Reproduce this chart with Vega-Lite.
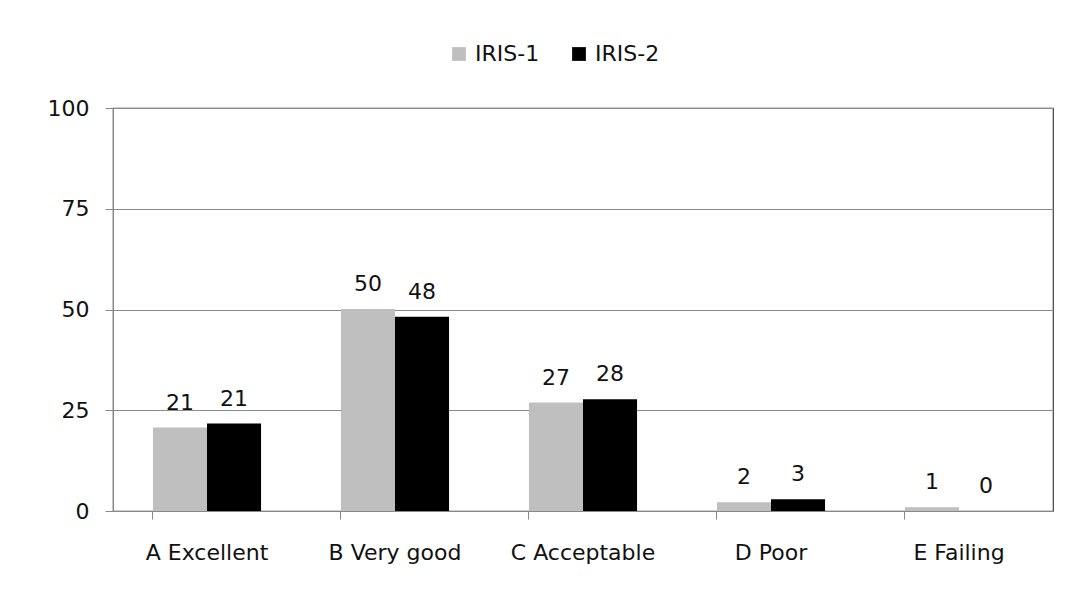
{
  "$schema": "https://vega.github.io/schema/vega-lite/v6.json",
  "width": 940,
  "height": 403,
  "autosize": "none",
  "padding": {"left": 113, "top": 108, "right": 24, "bottom": 83},
  "background": "white",
  "config": {
    "view": {"stroke": "#404040", "strokeWidth": 1.2},
    "font": "DejaVu Sans"
  },
  "data": {
    "values": [
      {"category": "A Excellent", "series": "IRIS-1", "value": 20.7, "label": "21"},
      {"category": "A Excellent", "series": "IRIS-2", "value": 21.7, "label": "21"},
      {"category": "B Very good", "series": "IRIS-1", "value": 50.1, "label": "50"},
      {"category": "B Very good", "series": "IRIS-2", "value": 48.2, "label": "48"},
      {"category": "C Acceptable", "series": "IRIS-1", "value": 26.9, "label": "27"},
      {"category": "C Acceptable", "series": "IRIS-2", "value": 27.7, "label": "28"},
      {"category": "D Poor", "series": "IRIS-1", "value": 2.2, "label": "2"},
      {"category": "D Poor", "series": "IRIS-2", "value": 2.9, "label": "3"},
      {"category": "E Failing", "series": "IRIS-1", "value": 0.9, "label": "1"},
      {"category": "E Failing", "series": "IRIS-2", "value": 0, "label": "0"}
    ]
  },
  "encoding": {
    "x": {
      "field": "category",
      "type": "nominal",
      "sort": null,
      "scale": {"paddingInner": 0.425, "paddingOuter": 0.2125},
      "axis": {
        "title": null,
        "labelAngle": 0,
        "bandPosition": 0,
        "domainColor": "#888888",
        "tickColor": "#888888",
        "tickSize": 8,
        "labelPadding": 23,
        "labelFontSize": 22,
        "labelColor": "#111111",
        "labelFont": "DejaVu Sans"
      }
    },
    "xOffset": {"field": "series", "type": "nominal", "scale": {"paddingInner": 0, "paddingOuter": 0}},
    "y": {
      "field": "value",
      "type": "quantitative",
      "scale": {"domain": [0, 100], "nice": false},
      "axis": {
        "title": null,
        "values": [0, 25, 50, 75, 100],
        "grid": true,
        "gridColor": "#8c8c8c",
        "gridWidth": 1.2,
        "domainColor": "#888888",
        "tickColor": "#888888",
        "tickSize": 8,
        "labelPadding": 16,
        "labelFontSize": 22,
        "labelColor": "#111111",
        "labelFont": "DejaVu Sans"
      }
    }
  },
  "layer": [
    {
      "mark": {"type": "bar"},
      "encoding": {
        "color": {
          "field": "series",
          "type": "nominal",
          "scale": {"domain": ["IRIS-1", "IRIS-2"], "range": ["#bfbfbf", "#000000"]},
          "legend": {
            "title": null,
            "orient": "none",
            "direction": "horizontal",
            "legendX": 335,
            "legendY": -65,
            "symbolType": "square",
            "symbolSize": 190,
            "symbolStrokeWidth": 0,
            "labelFontSize": 22,
            "labelFont": "DejaVu Sans",
            "labelColor": "#111111",
            "columnPadding": 28,
            "labelOffset": 5
          }
        }
      }
    },
    {
      "mark": {"type": "text", "baseline": "alphabetic", "dy": -18, "fontSize": 22, "color": "#111111", "font": "DejaVu Sans"},
      "encoding": {
        "text": {"field": "label"}
      }
    }
  ]
}
